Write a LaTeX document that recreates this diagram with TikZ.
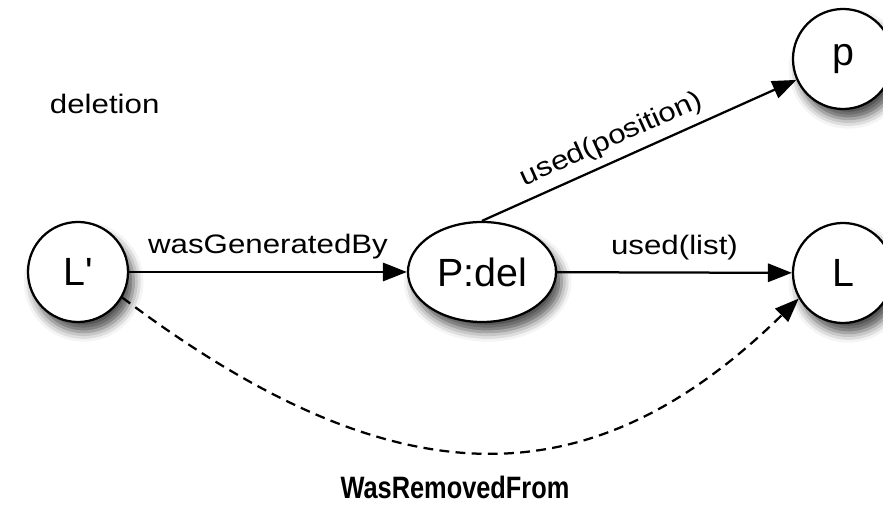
\documentclass[tikz,border=0pt]{standalone}
\usepackage{fontspec}
\setmainfont{Liberation Sans}
\newfontfamily\edgefont{Liberation Sans}[FakeStretch=1.17]
\newfontfamily\capfont{Liberation Sans}[FakeStretch=0.82]
\usetikzlibrary{arrows.meta,shapes.geometric,shadows.blur}

\begin{document}
\begin{tikzpicture}[x=0.025cm,y=0.025cm,>={Triangle[length=17pt,width=13pt]},
  nodeshadow/.style={blur shadow={shadow xshift=4pt,shadow yshift=-7pt,
    shadow blur radius=7pt,shadow opacity=70}},
  ent/.style={circle,draw,line width=1.6pt,fill=white,minimum size=2.5cm,
    inner sep=0pt,font=\fontsize{28}{32}\selectfont,nodeshadow},
  act/.style={ellipse,draw,line width=1.6pt,fill=white,minimum width=3.7cm,
    minimum height=2.5cm,inner sep=0pt,font=\fontsize{28}{32}\selectfont,nodeshadow},
  rel/.style={->,line width=1.6pt},
  lbl/.style={font=\edgefont\fontsize{19}{23}\selectfont},
  derived/.style={->,line width=1.6pt,dash pattern=on 7pt off 4.5pt}]
  \useasboundingbox (0,0) rectangle (883,513);

  % entities (circles) and the deletion process (ellipse)
  \node[ent] (lp)   at (78,241)  {L\textquotesingle};
  \node[act] (pdel) at (482,241) {P:del};
  \node[ent] (l)    at (843,240) {L};
  \node[ent] (p)    at (843,454) {p};

  \node[lbl,anchor=base west] (title) at (45,399) {deletion};

  % provenance relations
  \draw[rel] (lp) -- node[lbl,midway,above=5pt] (gen) {wasGeneratedBy} (pdel);
  \draw[rel] (pdel) -- node[lbl,midway,above=5pt] (usedl) {used(list)} (l);
  \draw[rel] (pdel.north) -- node[lbl,pos=0.44,above=2pt,sloped] (usedp) {used(position)} (p);

  % derived relation (dashed)
  \draw[derived] (lp.-30) .. controls (395,10) and (590,10) .. (l.-150);
  \node[font=\capfont\bfseries\fontsize{22}{26}\selectfont,anchor=base] (rem)
    at (455,14) {WasRemovedFrom};
\end{tikzpicture}
\end{document}
